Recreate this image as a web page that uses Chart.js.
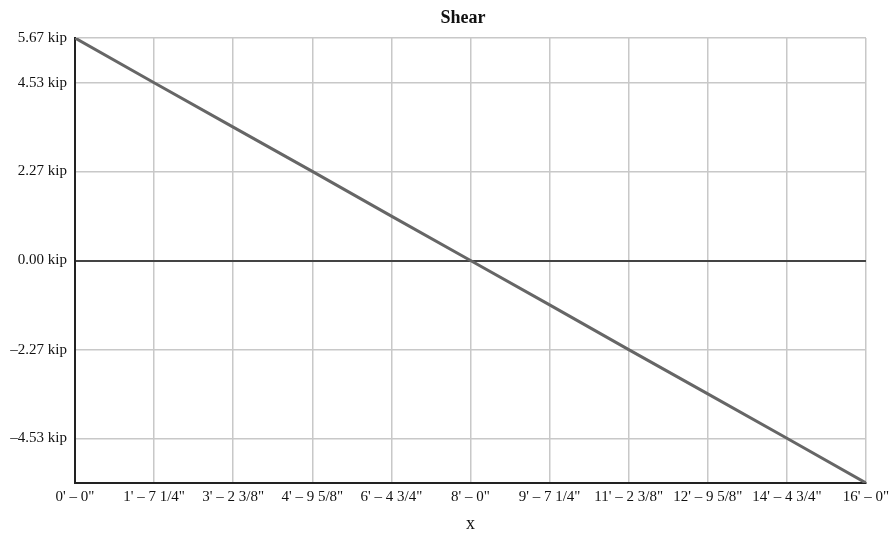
<!DOCTYPE html>
<html>
<head>
<meta charset="utf-8">
<script src="https://cdn.jsdelivr.net/npm/chart.js@4.4.0/dist/chart.umd.min.js"></script>
<style>
html,body{margin:0;padding:0;background:#fff;}
#wrap{width:891px;height:537px;position:relative;}
</style>
</head>
<body>
<div id="wrap"><canvas id="c" width="891" height="537"></canvas></div>
<script>
const chartTitle = "Shear";
const xAxisTitle = "x";
const xPositions = [0, 1.6, 3.2, 4.8, 6.4, 8, 9.6, 11.2, 12.8, 14.4, 16];
const xTickLabels = ["0' – 0\"", "1' – 7 1/4\"", "3' – 2 3/8\"", "4' – 9 5/8\"", "6' – 4 3/4\"", "8' – 0\"", "9' – 7 1/4\"", "11' – 2 3/8\"", "12' – 9 5/8\"", "14' – 4 3/4\"", "16' – 0\""];
const shearValues = [5.67, 4.53, 3.40, 2.27, 1.13, 0.00, -1.13, -2.27, -3.40, -4.53, -5.67];
const yTickValues = [5.67, 4.53, 2.27, 0.00, -2.27, -4.53];
const yTickLabels = ["5.67 kip", "4.53 kip", "2.27 kip", "0.00 kip", "–2.27 kip", "–4.53 kip"];

const serif = "'Liberation Serif', 'DejaVu Serif', serif";

const titlePlugin = {
  id: 'plotTitle',
  afterDraw(chart) {
    const ctx = chart.ctx;
    ctx.save();
    ctx.font = "bold 18px " + serif;
    ctx.fillStyle = "#111";
    ctx.textAlign = "center";
    ctx.textBaseline = "middle";
    ctx.fillText(chartTitle, 463, 18);
    ctx.restore();
  }
};

new Chart(document.getElementById('c'), {
  type: 'line',
  data: {
    datasets: [{
      data: xPositions.map((x, i) => ({x: x, y: shearValues[i]})),
      borderColor: '#666666',
      borderWidth: 3,
      pointRadius: 0,
      tension: 0,
      fill: false
    }]
  },
  options: {
    responsive: false,
    animation: false,
    devicePixelRatio: 1,
    layout: {padding: {top: 38, right: 25, left: 0, bottom: 0}},
    plugins: {legend: {display: false}, title: {display: false}, tooltip: {enabled: false}},
    scales: {
      x: {
        type: 'linear',
        min: 0, max: 16,
        afterBuildTicks: s => { s.ticks = xPositions.map(v => ({value: v})); },
        afterFit: s => { s.height = 54; s.paddingRight = 0; s.paddingLeft = 0; },
        ticks: {
          autoSkip: false, maxRotation: 0, padding: 5,
          color: '#111',
          font: {family: serif, size: 15},
          callback: (v, i) => xTickLabels[i]
        },
        grid: {color: '#c8c8c8', lineWidth: 1.5, drawTicks: false},
        border: {color: '#222', width: 2},
        title: {display: true, text: xAxisTitle, color: '#111', font: {family: serif, size: 18}, padding: {top: 0, bottom: 2}}
      },
      y: {
        type: 'linear',
        min: -5.67, max: 5.67,
        afterBuildTicks: s => { s.ticks = yTickValues.map(v => ({value: v})); },
        afterFit: s => { s.width = 75; s.paddingTop = 0; s.paddingBottom = 0; },
        ticks: {
          autoSkip: false, padding: 8,
          color: '#111',
          font: {family: serif, size: 15},
          callback: (v, i) => yTickLabels[i]
        },
        grid: {
          color: ctx => (ctx.tick && ctx.tick.value === 0) ? '#444' : '#c8c8c8',
          lineWidth: ctx => (ctx.tick && ctx.tick.value === 0) ? 2 : 1.5,
          drawTicks: false
        },
        border: {color: '#222', width: 2}
      }
    }
  },
  plugins: [titlePlugin]
});
</script>
</body>
</html>
